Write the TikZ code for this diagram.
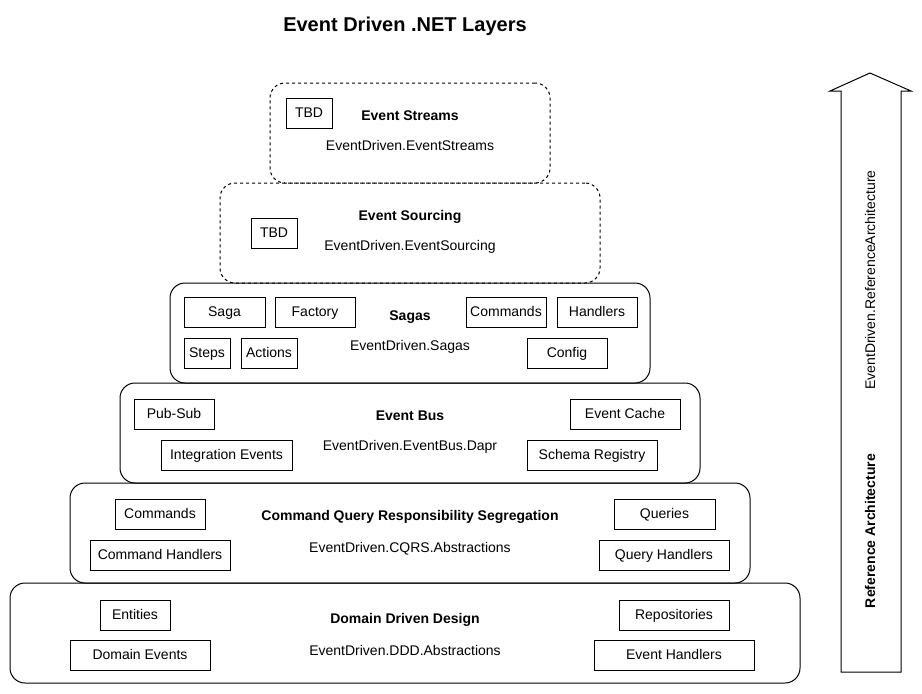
\documentclass[tikz,border=0pt]{standalone}
\usepackage{fontspec}
\setmainfont{Liberation Sans}
\usepackage{tikz}
\usetikzlibrary{positioning}
\tikzstyle{layer} = [rectangle, rounded corners=15pt, minimum height=100pt, draw=black, line width=1pt]
\tikzstyle{future} = [layer, dash pattern=on 3pt off 3pt]
\tikzstyle{item} = [rectangle, minimum height=30pt, text centered, text height=10pt, text depth=2pt, draw=black, line width=1pt, inner sep=0pt]
\tikzstyle{heading} = [font=\fontsize{14}{17}\selectfont\bfseries, text height=10pt, text depth=2pt]
\tikzstyle{package} = [font=\fontsize{14}{17}\selectfont, text height=10pt, text depth=2pt]

\begin{document}
\begin{tikzpicture}[x=1pt, y=-1pt, font=\fontsize{14}{17}\selectfont]
        \useasboundingbox (0,0) rectangle (922,694);

        \node (Title) at (405,26) [font=\fontsize{20}{24}\selectfont\bfseries] {Event Driven .NET Layers};

        % layers, bottom to top
        \node (DDD) at (405,633) [layer, minimum width=790pt] {};
        \node (CQRS) at (410,533) [layer, minimum width=680pt] {};
        \node (EventBus) at (410,433) [layer, minimum width=580pt] {};
        \node (Sagas) at (410,333) [layer, minimum width=480pt] {};
        \node (EventSourcing) at (410,233) [future, minimum width=380pt] {};
        \node (EventStreams) at (410,133) [future, minimum width=280pt] {};

        \node (StreamsTitle) at (410,116) [heading] {Event Streams};
        \node (StreamsPkg) at (410,146) [package] {EventDriven.EventStreams};
        \node (StreamsTBD) at (309,113) [item, minimum width=46pt] {TBD};

        \node (SourcingTitle) at (410,216) [heading] {Event Sourcing};
        \node (SourcingPkg) at (410,246) [package] {EventDriven.EventSourcing};
        \node (SourcingTBD) at (274,233.5) [item, minimum width=46pt] {TBD};

        \node (SagasTitle) at (410,316) [heading] {Sagas};
        \node (SagasPkg) at (410,346) [package] {EventDriven.Sagas};
        \node (Saga) at (224.5,312.5) [item, minimum width=81pt] {Saga};
        \node (Factory) at (315,312.5) [item, minimum width=80pt] {Factory};
        \node (SagaCommands) at (506,312.5) [item, minimum width=80pt] {Commands};
        \node (SagaHandlers) at (597,312.5) [item, minimum width=80pt] {Handlers};
        \node (Steps) at (207,353.5) [item, minimum width=46pt] {Steps};
        \node (Actions) at (269,353.5) [item, minimum width=56pt] {Actions};
        \node (Config) at (567,353.5) [item, minimum width=80pt] {Config};

        \node (BusTitle) at (410,416) [heading] {Event Bus};
        \node (BusPkg) at (410,446) [package] {EventDriven.EventBus.Dapr};
        \node (PubSub) at (174,414) [item, minimum width=80pt] {Pub-Sub};
        \node (IntegrationEvents) at (226.5,455) [item, minimum width=131pt] {Integration Events};
        \node (EventCache) at (625,414) [item, minimum width=110pt] {Event Cache};
        \node (SchemaRegistry) at (592,455) [item, minimum width=130pt] {Schema Registry};

        \node (CQRSTitle) at (410,516) [heading] {Command Query Responsibility Segregation};
        \node (CQRSPkg) at (410,548) [package] {EventDriven.CQRS.Abstractions};
        \node (Commands) at (160,514) [item, minimum width=90pt] {Commands};
        \node (CommandHandlers) at (160,555) [item, minimum width=140pt] {Command Handlers};
        \node (Queries) at (664.5,514) [item, minimum width=101pt] {Queries};
        \node (QueryHandlers) at (664,555) [item, minimum width=130pt] {Query Handlers};

        \node (DDDTitle) at (405,619) [heading] {Domain Driven Design};
        \node (DDDPkg) at (405,651) [package] {EventDriven.DDD.Abstractions};
        \node (Entities) at (135,615) [item, minimum width=70pt] {Entities};
        \node (DomainEvents) at (140,655) [item, minimum width=140pt] {Domain Events};
        \node (Repositories) at (674,615) [item, minimum width=110pt] {Repositories};
        \node (EventHandlers) at (674,655) [item, minimum width=160pt] {Event Handlers};

        % reference architecture arrow
        \draw [line width=1pt] (841,672) -- (841,91) -- (830,91) -- (870,73) -- (911,91) -- (901,91) -- (901,672) -- cycle;
        \node (RefPkg) at (871,280) [package, rotate=90] {EventDriven.ReferenceArchitecture};
        \node (RefTitle) at (871,531) [heading, rotate=90] {Reference Architecture};

      \end{tikzpicture}
\end{document}
